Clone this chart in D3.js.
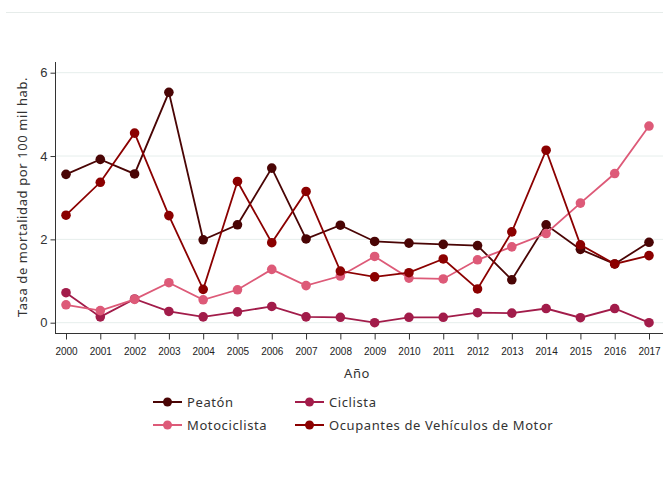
<!DOCTYPE html>
<html><head><meta charset="utf-8">
<script src="https://cdn.jsdelivr.net/npm/d3@7"></script>
<style>body{margin:0;background:#fff;} svg{display:block;font-family:"Noto Sans","DejaVu Sans",sans-serif;}</style>
</head><body>
<svg id="c" width="663" height="487"></svg>
<script>
const years = [2000,2001,2002,2003,2004,2005,2006,2007,2008,2009,2010,2011,2012,2013,2014,2015,2016,2017];
const peaton = [3.56,3.92,3.57,5.53,1.99,2.35,3.71,2.01,2.34,1.95,1.91,1.88,1.85,1.03,2.35,1.76,1.41,1.93];
const ciclista = [0.72,0.14,0.57,0.27,0.14,0.26,0.39,0.14,0.13,0.0,0.13,0.13,0.24,0.23,0.34,0.12,0.34,0.0];
const moto = [0.43,0.29,0.56,0.96,0.55,0.79,1.28,0.89,1.12,1.59,1.07,1.05,1.51,1.82,2.14,2.87,3.58,4.72];
const ocupantes = [2.58,3.37,4.55,2.57,0.80,3.39,1.92,3.15,1.24,1.10,1.20,1.53,0.81,2.18,4.14,1.87,1.41,1.61];
const yTicks = [0,2,4,6];
const seriesNames = ["Peatón","Ciclista","Motociclista","Ocupantes de Vehículos de Motor"];
const colors = ["#4a0505","#a21c4a","#dd5a78","#8b0000"];
const series = [peaton, ciclista, moto, ocupantes];

const svg = d3.select("#c");
const x = d3.scaleLinear().domain([2000,2017]).range([66,649]);
const y = d3.scaleLinear().domain([0,6]).range([322.7,72.7]);

// top faint line
svg.append("line").attr("x1",6).attr("x2",663).attr("y1",12.5).attr("y2",12.5)
  .attr("stroke","#e6ecea").attr("stroke-width",1);

// gridlines
svg.append("g").selectAll("line").data(yTicks).join("line")
  .attr("x1",56).attr("x2",663).attr("y1",d=>y(d)).attr("y2",d=>y(d))
  .attr("stroke","#e6eeec").attr("stroke-width",1);

// y axis
const ya = svg.append("g").attr("transform","translate(55.5,0)")
  .call(d3.axisLeft(y).tickValues(yTicks).tickSize(5).tickPadding(3).tickFormat(d3.format("d")));
ya.select(".domain").attr("d","M0,62V333.5").attr("stroke","#333");
ya.selectAll(".tick line").attr("stroke","#333");
ya.selectAll("text").attr("font-size",13).attr("fill","#333").style("font-family","inherit");

// x axis
const xa = svg.append("g").attr("transform","translate(0,333.5)")
  .call(d3.axisBottom(x).tickValues(years).tickSize(6).tickPadding(8).tickFormat(d3.format("d")));
xa.select(".domain").attr("d","M55,0H663").attr("stroke","#333");
xa.selectAll(".tick line").attr("stroke","#333");
xa.selectAll("text").attr("font-size",10).attr("fill","#222").style("font-family","inherit");

// titles
svg.append("text").attr("x",357).attr("y",378).attr("text-anchor","middle")
  .attr("font-size",13).attr("letter-spacing",0.6).attr("fill","#333").text("Año");
svg.append("text").attr("transform","translate(27,197) rotate(-90)").attr("text-anchor","middle")
  .attr("font-size",13).attr("letter-spacing",0.6).attr("fill","#333").text("Tasa de mortalidad por 100 mil hab.");

// lines
const line = d3.line().x((d,i)=>x(years[i])).y(d=>y(d));
series.forEach((s,k)=>{
  const g = svg.append("g");
  g.append("path").attr("d",line(s)).attr("fill","none").attr("stroke",colors[k]).attr("stroke-width",1.8);
  g.selectAll("circle").data(s).join("circle")
    .attr("cx",(d,i)=>x(years[i])).attr("cy",d=>y(d)).attr("r",4.8).attr("fill",colors[k]);
});

// legend
const legPos = [[153,402],[295,402],[153,425],[295,425]];
seriesNames.forEach((n,k)=>{
  const [lx,ly] = legPos[k];
  const g = svg.append("g").attr("transform",`translate(${lx},${ly})`);
  g.append("line").attr("x1",0).attr("x2",29).attr("y1",0).attr("y2",0).attr("stroke",colors[k]).attr("stroke-width",2);
  g.append("circle").attr("cx",14.5).attr("cy",0).attr("r",4.5).attr("fill",colors[k]);
  g.append("text").attr("x",34).attr("y",4.5).attr("font-size",13).attr("letter-spacing",0.6).attr("fill","#333").text(n);
});
</script>
</body></html>
